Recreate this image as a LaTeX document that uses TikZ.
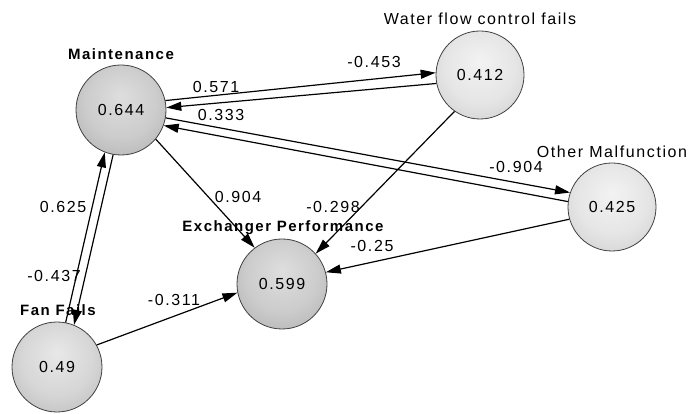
\documentclass[tikz,border=0pt]{standalone}
\usepackage{fontspec}
\setmainfont{Liberation Sans}
\newfontfamily\spfont[LetterSpace=10]{Liberation Sans}
\usetikzlibrary{arrows.meta}
\pgfdeclareradialshading{darkshade}{\pgfpoint{0bp}{8bp}}{color(0bp)=(black!13); color(20bp)=(black!20); color(50bp)=(black!40)}
\pgfdeclareradialshading{midshade}{\pgfpoint{0bp}{8bp}}{color(0bp)=(black!9); color(20bp)=(black!16); color(50bp)=(black!36)}
\pgfdeclareradialshading{lightshade}{\pgfpoint{0bp}{8bp}}{color(0bp)=(black!5); color(20bp)=(black!10); color(50bp)=(black!27)}
\begin{document}
\begin{tikzpicture}[x=1pt,y=-1pt,
  font=\spfont\fontsize{16}{18}\selectfont,
  ballc/.style={circle,draw=black!75,line width=0.8pt,minimum size=#1,inner sep=0pt},
  darkball/.style={ballc=90pt,shading=darkshade},
  midball/.style={ballc=90pt,shading=midshade},
  lightball/.style={ballc=88pt,shading=lightshade},
  conn/.style={line width=1.2pt,-{Triangle[length=15pt,width=9pt]}},
  vallab/.style={inner sep=0pt},
  nmlab/.style={inner sep=0pt},
  bnmlab/.style={inner sep=0pt,font=\spfont\bfseries\fontsize{15}{17}\selectfont}]
\useasboundingbox (0,0) rectangle (689,414);
\node[darkball] (mnt) at (121,110) {0.644};
\node[lightball] (wat) at (480,75) {0.412};
\node[lightball] (oth) at (612,207) {0.425};
\node[darkball] (exc) at (282,284) {0.599};
\node[midball] (fan) at (57,367) {0.49};
\node[bnmlab] (lmnt) at (121,54) {Maintenance};
\node[nmlab] (lwat) at (480,19) {Water flow control fails};
\node[nmlab] (loth) at (612,152) {Other Malfunction};
\node[bnmlab] (lexc) at (283,228) {Exchanger Performance};
\node[bnmlab] (lfan) at (58,310) {Fan Fails};
\draw[conn] (mnt.12) -- (wat.177.5);
\draw[conn] (wat.191) -- (mnt.3.7);
\draw[conn] (mnt.-10) -- (oth.161.6);
\draw[conn] (oth.173.7) -- (mnt.-20);
\draw[conn] (fan.79.7) -- (mnt.-111.6);
\draw[conn] (mnt.-100) -- (fan.68.9);
\draw[conn] (mnt.-40) -- (exc.127);
\draw[conn] (wat.235) -- (exc.42);
\draw[conn] (oth.196) -- (exc.15);
\draw[conn] (fan.29) -- (exc.191);
\node[vallab] (e1) at (374,62) {-0.453};
\node[vallab] (e2) at (216,87) {0.571};
\node[vallab] (e3) at (221,115) {0.333};
\node[vallab] (e4) at (516,167) {-0.904};
\node[vallab] (e5) at (238,197) {0.904};
\node[vallab] (e6) at (333,207) {-0.298};
\node[vallab] (e7) at (372,246) {-0.25};
\node[vallab] (e8) at (174,300) {-0.311};
\node[vallab] (e9) at (63,207) {0.625};
\node[vallab] (e10) at (54,276) {-0.437};
\end{tikzpicture}
\end{document}
